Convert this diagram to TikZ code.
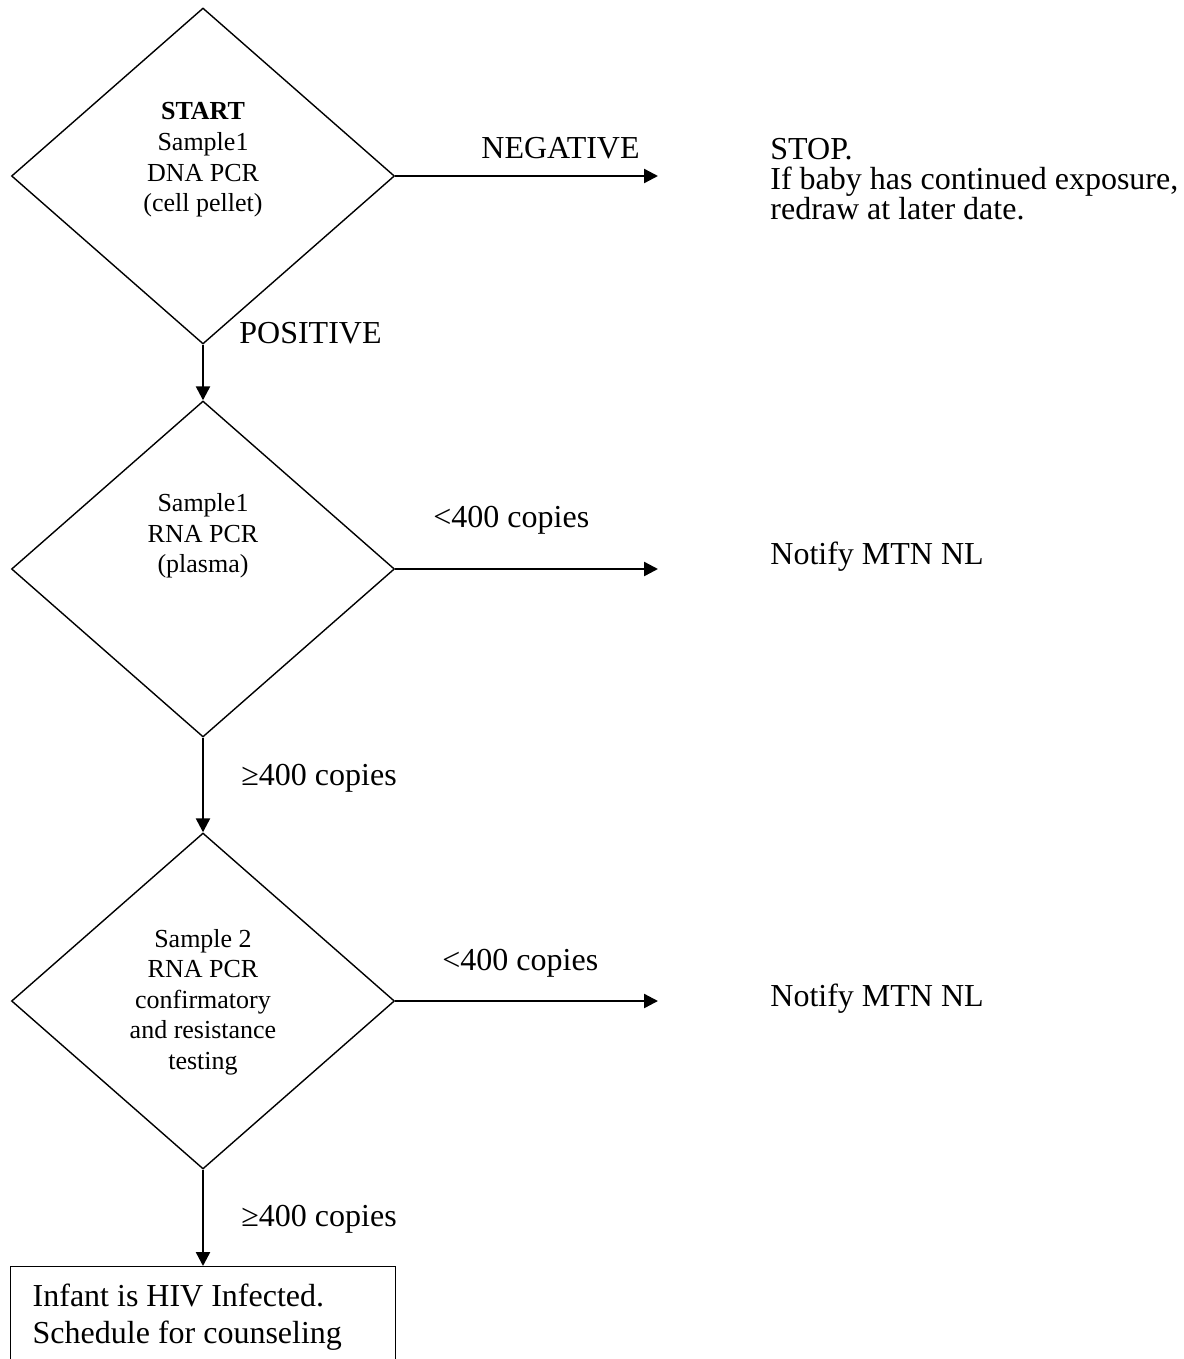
\documentclass[tikz,border=0pt]{standalone}
\usepackage{fontspec}
\setmainfont{Liberation Serif}
\usepackage{tikz}
\usetikzlibrary{shapes.geometric,arrows.meta}

\begin{document}
\begin{tikzpicture}[x=0.5pt,y=-0.5pt,
	decision/.style={draw, diamond, line width=0.7pt, minimum width=191.5pt, minimum height=168pt, inner sep=0pt},
	intext/.style={align=center, inner sep=0pt, font=\fontsize{13}{15.3}\selectfont},
	label/.style={inner sep=0pt, anchor=base west, font=\fontsize{16}{15}\selectfont},
	arr/.style={line width=1.2pt, -{Triangle[length=7pt,width=7pt]}}]
	\useasboundingbox (0,0) rectangle (1183,1359);
	\node[decision] (d1) at (203,176) {};
	\node[decision] (d2) at (203,569) {};
	\node[decision] (d3) at (203,1001) {};
	\node[intext] (t1) at (203,160) {\textbf{START}\\Sample1\\DNA PCR\\(cell pellet)};
	\node[intext] (t2) at (203,536) {Sample1\\RNA PCR\\(plasma)};
	\node[intext] (t3) at (203,1002) {Sample 2\\RNA PCR\\confirmatory\\and resistance\\testing};
	\node[draw, line width=0.7pt, anchor=north west, text width=170.5pt, align=flush left, inner xsep=11pt, inner ysep=8.5pt, font=\fontsize{16}{18.5}\selectfont] (infected) at (10,1266) {Infant is HIV Infected.\\Schedule for counseling};
	\coordinate (e1) at (658,176);
	\coordinate (e2) at (658,569);
	\coordinate (e3) at (658,1001);
	\draw[arr] (d1.east) -- (e1);
	\draw[arr] (d2.east) -- (e2);
	\draw[arr] (d3.east) -- (e3);
	\draw[arr] (d1.south) -- (d2.north);
	\draw[arr] (d2.south) -- (d3.north);
	\draw[arr] (d3.south) -- (infected.north -| d3.south);
	\node[label] (neg) at (481,158) {NEGATIVE};
	\node[label] (pos) at (239,343) {POSITIVE};
	\node[label] (low1) at (433,527) {<400 copies};
	\node[label] (high1) at (241,785) {≥400 copies};
	\node[label] (low2) at (442,970) {<400 copies};
	\node[label] (high2) at (241,1226) {≥400 copies};
	\node[label, anchor=north west, align=left] (stop) at (770,138) {STOP.\\If baby has continued exposure,\\redraw at later date.};
	\node[label] (notify1) at (770,564) {Notify MTN NL};
	\node[label] (notify2) at (770,1006) {Notify MTN NL};
\end{tikzpicture}
\end{document}
